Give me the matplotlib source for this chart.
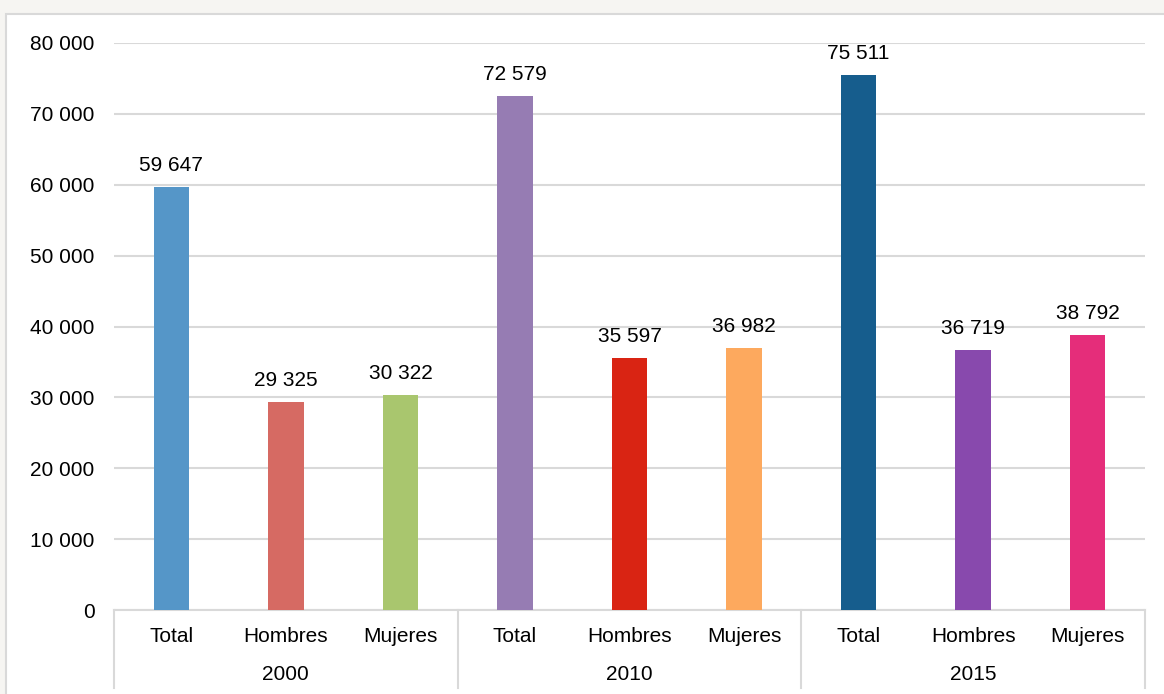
import matplotlib
matplotlib.use("Agg")
import matplotlib.pyplot as plt
from matplotlib.patches import Rectangle
from matplotlib.lines import Line2D

plt.rcParams['font.family'] = ['Liberation Sans', 'DejaVu Sans']

# Population by sex, census years
years = ["2000", "2010", "2015"]
groups = ["Total", "Hombres", "Mujeres"]
values_2000 = [59647, 29325, 30322]
values_2010 = [72579, 35597, 36982]
values_2015 = [75511, 36719, 38792]
bar_colors = ["#5596c8", "#d66a63", "#a9c66e",
              "#967cb3", "#d92413", "#fda95e",
              "#165d8d", "#8849ad", "#e52d7a"]
y_ticks = [0, 10000, 20000, 30000, 40000, 50000, 60000, 70000, 80000]

values = values_2000 + values_2010 + values_2015
labels = groups * len(years)

W, H = 1164, 694
FS = 15
fig = plt.figure(figsize=(W / 100, H / 100), dpi=100)
fig.patch.set_facecolor("#f6f5f2")

# white chart panel
fig.patches.append(Rectangle((6 / W, -0.01), 1.0, 1 - 14 / H + 0.01,
                             transform=fig.transFigure, facecolor="white",
                             edgecolor="#d9d9d9", linewidth=1.5, zorder=-10))

left, right, bottom, top = 114 / W, 1145 / W, 1 - 610 / H, 1 - 43 / H
ax = fig.add_axes([left, bottom, right - left, top - bottom])
ax.set_facecolor("none")
ax.set_zorder(1)

x = list(range(len(values)))
ax.bar(x, values, width=0.31, color=bar_colors, zorder=3)

for xi, v in zip(x, values):
    ax.annotate(f"{v:,}".replace(",", " "), (xi, v), xytext=(0, 11.5),
                textcoords="offset points", ha="center", va="baseline",
                fontsize=FS, color="#000000", zorder=4)

ax.set_xlim(-0.5, len(values) - 0.5)
ax.set_ylim(0, 80000)
ax.set_yticks(y_ticks)
ax.set_yticklabels([f"{t:,}".replace(",", " ") for t in y_ticks], fontsize=FS)
ax.tick_params(axis="y", length=0, pad=14)
ax.set_xticks([])
ax.yaxis.grid(True, color="#d9d9d9", linewidth=1.5, zorder=0)
ax.set_axisbelow(True)
for s in ["top", "right", "left"]:
    ax.spines[s].set_visible(False)
ax.spines["bottom"].set_color("#d9d9d9")
ax.spines["bottom"].set_linewidth(1.5)

ax_h = (top - bottom) * H
tr = ax.get_xaxis_transform()
for xi, lab in zip(x, labels):
    ax.text(xi, -27 / ax_h, lab, transform=tr, ha="center", va="center",
            fontsize=FS, color="#000000")
for i, yr in enumerate(years):
    ax.text(3 * i + 1, -64 / ax_h, yr, transform=tr, ha="center", va="center",
            fontsize=FS, color="#000000")

# group separators on the category axis
for b in [-0.5, 2.5, 5.5, 8.5]:
    ax.add_line(Line2D([b, b], [0, -78 / ax_h], transform=tr, color="#d9d9d9",
                       linewidth=1.5, clip_on=False))

fig.savefig("out.png", dpi=100, facecolor=fig.get_facecolor())
